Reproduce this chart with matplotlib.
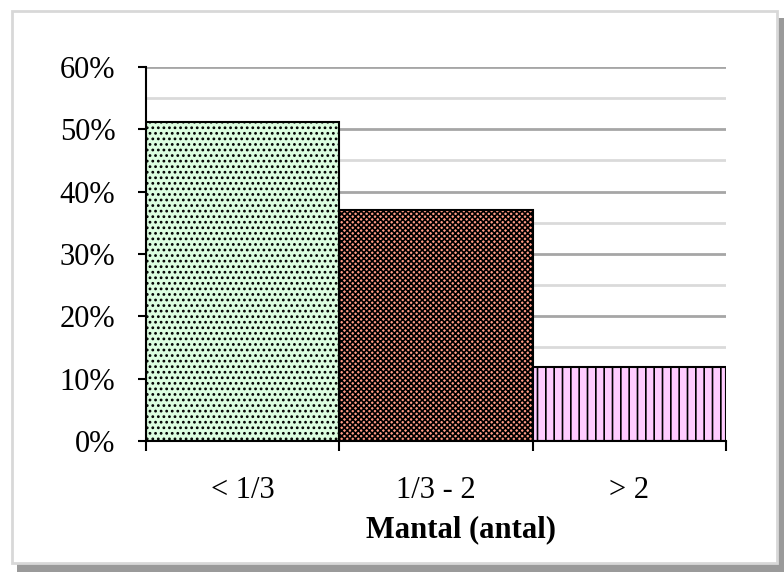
import matplotlib.pyplot as plt
from matplotlib.patches import Rectangle
from matplotlib.ticker import PercentFormatter, MultipleLocator, FixedLocator, NullFormatter

categories = ["< 1/3", "1/3 - 2", "> 2"]
shares = [0.512, 0.370, 0.119]
face_colors = ["#dcfde0", "#ff9a85", "#ffccff"]
hatches = ["...", "xxxxxx", "||"]
x_label = "Mantal (antal)"

plt.rcParams["font.family"] = ["Liberation Serif", "DejaVu Serif"]
plt.rcParams["hatch.linewidth"] = 1.2

fig = plt.figure(figsize=(7.84, 5.72), dpi=100)

# frame with drop shadow
fig.patches.append(Rectangle((17 / 784, 0), 767 / 784, 554 / 572, transform=fig.transFigure,
                             facecolor="#9a9a9a", edgecolor="none", zorder=-3))
fig.patches.append(Rectangle((12 / 784, 9 / 572), 765 / 784, 552 / 572, transform=fig.transFigure,
                             facecolor="white", edgecolor="#d8d8d8", linewidth=2, zorder=-2))

ax = fig.add_axes([146 / 784, 131 / 572, 580 / 784, 374 / 572])
ax.patch.set_alpha(0)

positions = [i + 0.5 for i in range(len(categories))]
for pos, val, fc, h in zip(positions, shares, face_colors, hatches):
    ax.bar(pos, val, width=1.0, color=fc, edgecolor="black", linewidth=1.5, hatch=h, zorder=3)

ax.set_xlim(0, len(categories))
ax.set_ylim(0, 0.6)

ax.yaxis.set_major_locator(MultipleLocator(0.1))
ax.yaxis.set_minor_locator(MultipleLocator(0.05))
ax.yaxis.set_major_formatter(PercentFormatter(1.0, decimals=0))
ax.grid(axis="y", which="major", color="#a6a6a6", linewidth=2, zorder=0)
ax.grid(axis="y", which="minor", color="#dadada", linewidth=2, zorder=0)
ax.tick_params(axis="y", which="major", direction="out", length=6, width=1.5, labelsize=22, pad=16)
ax.tick_params(axis="y", which="minor", length=0)

ax.xaxis.set_major_locator(FixedLocator(range(len(categories) + 1)))
ax.xaxis.set_major_formatter(NullFormatter())
ax.xaxis.set_minor_locator(FixedLocator(positions))
ax.set_xticklabels(categories, minor=True)
ax.tick_params(axis="x", which="major", direction="out", length=7, width=1.5)
ax.tick_params(axis="x", which="minor", length=0, labelsize=22, pad=25)

ax.set_xlabel(x_label, fontsize=22, fontweight="bold")
ax.xaxis.set_label_coords(0.543, -0.198)

for side in ["top", "right"]:
    ax.spines[side].set_visible(False)
for side in ["left", "bottom"]:
    ax.spines[side].set_linewidth(1.5)
    ax.spines[side].set_zorder(4)

fig.savefig("out.png", dpi=100)
